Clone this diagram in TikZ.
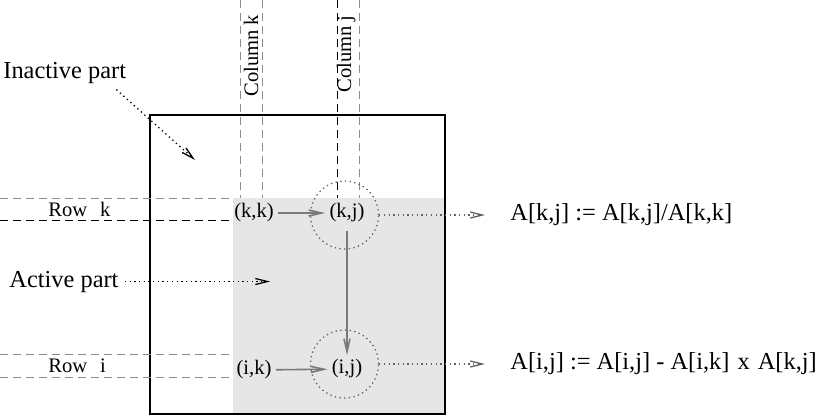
\documentclass[tikz,border=0pt]{standalone}
\usepackage{fontspec}
\setmainfont{Liberation Serif}
\usetikzlibrary{arrows.meta}
\definecolor{ActiveGray}{HTML}{E6E6E6}
\definecolor{GuideGray}{HTML}{8C8C8C}
\definecolor{FlowGray}{HTML}{7A7A7A}
\definecolor{DotGray}{HTML}{606060}

\begin{document}
\begin{tikzpicture}[x=0.5pt,y=-0.5pt,
    big/.style={font=\fontsize{12.2}{14}\selectfont,inner sep=0pt},
    small/.style={font=\fontsize{10.3}{12}\selectfont,inner sep=2pt},
    guide/.style={line width=0.5pt,dash pattern=on 4pt off 2.5pt},
    dots/.style={line width=0.65pt,dash pattern=on 0.65pt off 1.7pt},
    pointer/.style={dots,-{Straight Barb[length=6pt,width=3pt]}},
    flow/.style={FlowGray,line width=0.8pt,-{Straight Barb[length=6.5pt,width=3pt]}}]
    \useasboundingbox (0,0) rectangle (838,418);
    % the matrix
    \fill[ActiveGray] (233,198) rectangle (445,414);
    \draw[line width=0.8pt] (150,115) rectangle (445,414);
    % column and row guides
    \draw[guide,GuideGray] (240,0) -- (240,198);
    \draw[guide,GuideGray] (262,0) -- (262,198);
    \draw[guide] (337,0) -- (337,198);
    \draw[guide,GuideGray] (359,0) -- (359,198);
    \draw[guide,GuideGray] (0,198) -- (233,198);
    \draw[guide] (0,220) -- (233,220);
    \draw[guide,GuideGray] (0,354) -- (233,354);
    \draw[guide,GuideGray] (0,377) -- (233,377);
    \node[small,inner sep=0pt,rotate=90,anchor=base west] (colk) at (258,97) {Column k};
    \node[small,inner sep=0pt,rotate=90,anchor=base west] (colj) at (351,93) {Column j};
    \node[small,inner sep=0pt,anchor=base west] (rowk) at (48,216) {Row\hspace{0.62em}k};
    \node[small,inner sep=0pt,anchor=base west] (rowi) at (48,372) {Row\hspace{0.62em}i};
    % elements
    \node[small] (kk) at (254,213) {(k,k)};
    \node[small] (kj) at (347,213) {(k,j)};
    \node[small] (ik) at (254,370) {(i,k)};
    \node[small] (ij) at (347,369) {(i,j)};
    \node[circle,draw=DotGray,dots,minimum size=34pt] (ckj) at (344.5,215) {};
    \node[circle,draw=DotGray,dots,minimum size=34pt] (cij) at (344.5,364) {};
    \draw[flow] (kk) -- (kj);
    \draw[flow] (ik) -- (ij);
    \draw[flow,shorten <=2pt] (kj) -- (ij);
    % labels and updates
    \node[big,anchor=base west] (inactive) at (3,78) {Inactive part};
    \node[big,anchor=base west] (active) at (9,287) {Active part};
    \node[big,anchor=base west] (updkj) at (510,220) {A[k,j] := A[k,j]/A[k,k]};
    \node[big,anchor=base west] (updij) at (510,369) {A[i,j] := A[i,j] - A[i,k]\hspace{1pt} x\hspace{1pt} A[k,j]};
    \coordinate (ia) at (195,160);
    \coordinate (ac) at (270,281);
    \coordinate (e1) at (485,215);
    \coordinate (e2) at (485,364);
    \draw[pointer] ([xshift=-5pt,yshift=-3pt]inactive.south east) -- (ia);
    \draw[pointer,shorten <=3pt] (active) -- (active -| ac);
    \draw[pointer,DotGray] (ckj) -- (e1);
    \draw[pointer,DotGray] (cij) -- (e2);
\end{tikzpicture}
\end{document}
